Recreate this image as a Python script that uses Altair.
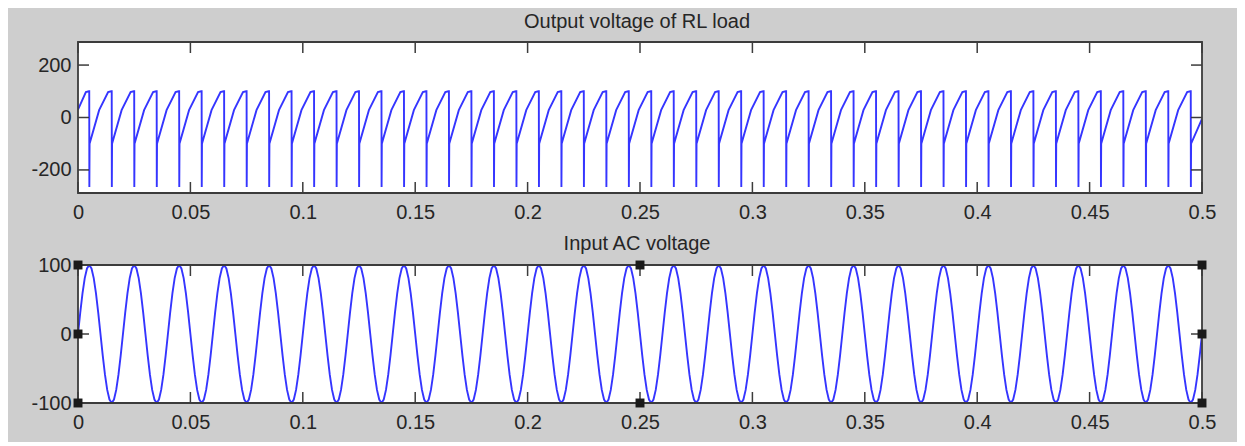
import altair as alt
import pandas as pd

# ---------------- data ----------------
# Output voltage of RL load: times (s) of the 50 sharp drops
drop_times = [0.005, 0.015, 0.025, 0.035, 0.045, 0.055, 0.065, 0.075, 0.085, 0.095,
              0.105, 0.115, 0.125, 0.135, 0.145, 0.155, 0.165, 0.175, 0.185, 0.195,
              0.205, 0.215, 0.225, 0.235, 0.245, 0.255, 0.265, 0.275, 0.285, 0.295,
              0.305, 0.315, 0.325, 0.335, 0.345, 0.355, 0.365, 0.375, 0.385, 0.395,
              0.405, 0.415, 0.425, 0.435, 0.445, 0.455, 0.465, 0.475, 0.485, 0.495]
# shape after each drop: time offset (s) and voltage (V)
cycle_offsets = [0.00005, 0.00015, 0.0044, 0.0084, 0.0098]
cycle_values = [-265, -100, 28, 97, 100]
# first partial segment and final point
start_times = [0.0, 0.0035, 0.0049]
start_values = [30, 97, 100]
end_time = 0.5
end_value = -5

# Input AC voltage: one 20 ms cycle sampled every 1 ms, repeated 25 times
ac_cycle_values = [0, 31, 59, 81, 95, 100, 95, 81, 59, 31,
                   0, -31, -59, -81, -95, -100, -95, -81, -59, -31]
ac_cycles = 25
ac_step = 0.001

# axis ticks
x_ticks = [0, 0.05, 0.1, 0.15, 0.2, 0.25, 0.3, 0.35, 0.4, 0.45, 0.5]
y1_ticks = [-200, 0, 200]
y2_ticks = [-100, 0, 100]
y1_domain = [-288, 288]
y2_domain = [-100, 100]

# selection handles of the lower axes
handle_x = [0, 0.25, 0.5, 0, 0.5, 0, 0.25, 0.5]
handle_y = [100, 100, 100, 0, 0, -100, -100, -100]

titles = ["Output voltage of RL load", "Input AC voltage"]

# ---------------- tables ----------------
out_t, out_v = list(start_times), list(start_values)
for d in drop_times:
    out_t.append(d)
    out_v.append(100)
    for off, v in zip(cycle_offsets, cycle_values):
        if d + off < end_time - 0.001 or off < 0.001:
            out_t.append(d + off)
            out_v.append(v)
out_t.append(end_time)
out_v.append(end_value)
out_df = pd.DataFrame({"t": out_t, "v": out_v})

ac_t, ac_v = [], []
for c in range(ac_cycles):
    for i, v in enumerate(ac_cycle_values):
        ac_t.append(round((c * len(ac_cycle_values) + i) * ac_step, 6))
        ac_v.append(v)
ac_t.append(0.5)
ac_v.append(0)
ac_df = pd.DataFrame({"t": ac_t, "v": ac_v})

xt_df = pd.DataFrame({"x": x_ticks})
y1t_df = pd.DataFrame({"y": y1_ticks})
y2t_df = pd.DataFrame({"y": y2_ticks})
h_df = pd.DataFrame({"x": handle_x, "y": handle_y})
one = pd.DataFrame({"a": [0]})

# ---------------- styling ----------------
W = 1124
H1 = 151
H2 = 138
TL = 11
FONT = "Liberation Sans"
TXT = "#262626"
BOX = "#3c3c3c"
GRAY = "#cecece"
BLUE = "#3535ff"

xscale = alt.Scale(domain=[0, 0.5], nice=False, zero=False)


def xaxis():
    return alt.Axis(values=x_ticks, format="~g", tickSize=0, domain=False, grid=False,
                    labelFontSize=20, labelFont=FONT, labelColor=TXT, labelPadding=9,
                    labelFlush=False, labelOverlap=False, title=None, zindex=2)


def yaxis(vals):
    return alt.Axis(values=vals, labelExpr="'' + datum.value", tickSize=0, domain=False,
                    grid=False, labelFontSize=20, labelFont=FONT, labelColor=TXT,
                    labelPadding=7, labelOverlap=False, title=None, zindex=2)


def panel(df, ydom, yticks, ytdf, H, title, tdy, extra=None, background=False):
    yscale = alt.Scale(domain=ydom, nice=False, zero=False)
    layers = []
    if background:
        layers.append(alt.Chart(one).mark_rect(color=GRAY).encode(
            x=alt.value(-70), x2=alt.value(1159), y=alt.value(-34), y2=alt.value(400)))
    layers.append(alt.Chart(one).mark_rect(color="white").encode(
        x=alt.value(0), x2=alt.value(W), y=alt.value(0), y2=alt.value(H)))
    layers.append(alt.Chart(df).mark_line(color=BLUE, strokeWidth=1.9, clip=True).encode(
        x=alt.X("t:Q", scale=xscale, axis=xaxis()),
        y=alt.Y("v:Q", scale=yscale, axis=yaxis(yticks))))
    # inward ticks
    layers.append(alt.Chart(xt_df).mark_rule(color=BOX, strokeWidth=1.5).encode(
        x="x:Q", y=alt.value(H), y2=alt.value(H - TL)))
    layers.append(alt.Chart(xt_df).mark_rule(color=BOX, strokeWidth=1.5).encode(
        x="x:Q", y=alt.value(0), y2=alt.value(TL)))
    layers.append(alt.Chart(ytdf).mark_rule(color=BOX, strokeWidth=1.5).encode(
        y="y:Q", x=alt.value(0), x2=alt.value(TL)))
    layers.append(alt.Chart(ytdf).mark_rule(color=BOX, strokeWidth=1.5).encode(
        y="y:Q", x=alt.value(W - TL), x2=alt.value(W)))
    layers.append(alt.Chart(one).mark_rect(fillOpacity=0, stroke=BOX, strokeWidth=1.8).encode(
        x=alt.value(0), x2=alt.value(W), y=alt.value(0), y2=alt.value(H)))
    layers.append(alt.Chart(one).mark_text(
        text=title, fontSize=20, font=FONT, color=TXT, align="center",
        baseline="alphabetic").encode(x=alt.value(W / 2 - 3), y=alt.value(tdy)))
    if extra is not None:
        layers.append(extra)
    return alt.layer(*layers).properties(width=W, height=H)


handles = alt.Chart(h_df).mark_square(size=80, color="#1a1a1a", opacity=1).encode(
    x="x:Q", y="y:Q")

top = panel(out_df, y1_domain, y1_ticks, y1t_df, H1, titles[0], -14, background=True)
bottom = panel(ac_df, y2_domain, y2_ticks, y2t_df, H2, titles[1], -15, extra=handles)

chart = alt.vconcat(top, bottom, spacing=72, bounds="flush").properties(
    padding={"left": 8, "top": 8, "right": 8, "bottom": 4},
    background="white",
).configure_view(strokeWidth=0, fill=None)

chart.save("out.html", embed_options={"renderer": "svg", "actions": False})
